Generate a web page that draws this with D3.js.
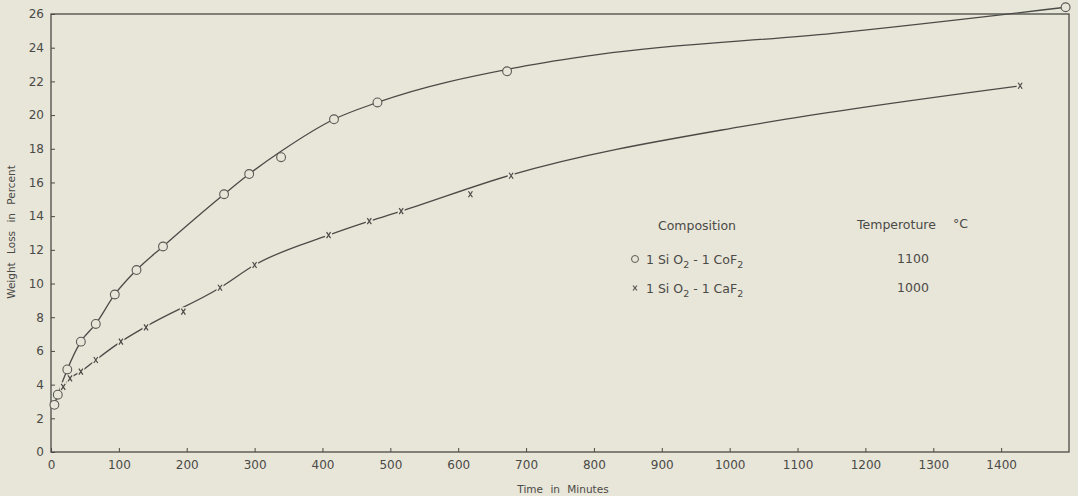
<!DOCTYPE html>
<html>
<head>
<meta charset="utf-8">
<script src="https://cdn.jsdelivr.net/npm/d3@7"></script>
<style>
  html, body { margin: 0; padding: 0; background: #e8e5d9; }
  svg { display: block; }
  .tick text { font-family: "DejaVu Sans", sans-serif; font-size: 12px; fill: #4a4a46; }
  .tick line { stroke: #4a4a46; stroke-width: 1; }
  .lbl { font-family: "DejaVu Sans", sans-serif; fill: #4a4a46; }
</style>
</head>
<body>
<svg id="chart"></svg>
<script>
// Weight loss vs time, two slag compositions (scanned lab chart)

const W = 1078, H = 496;
const M = { top: 14, right: 8, bottom: 44, left: 51 };

// measured points, 1 SiO2 - 1 CoF2 at 1100 C (circles)
const circleTime = [5, 10, 24, 44, 66, 94, 126, 165, 255, 292, 339, 417, 481, 672, 1495];
const circleLoss = [2.8, 3.4, 4.9, 6.55, 7.6, 9.35, 10.8, 12.2, 15.3, 16.5, 17.5, 19.75, 20.75, 22.6, 26.4];

// measured points, 1 SiO2 - 1 CaF2 at 1000 C (crosses)
const crossTime = [18, 28, 44, 66, 103, 140, 195, 249, 300, 409, 469, 516, 618, 678, 1428];
const crossLoss = [3.87, 4.37, 4.77, 5.46, 6.55, 7.4, 8.33, 9.75, 11.1, 12.87, 13.7, 14.3, 15.3, 16.4, 21.74];

// hand-drawn smooth curves
const curveCircleTime = [5, 10, 24, 44, 66, 94, 126, 165, 255, 292, 339, 417, 481, 690, 808, 1152, 1495];
const curveCircleLoss = [2.8, 3.4, 4.9, 6.55, 7.6, 9.35, 10.8, 12.2, 15.3, 16.5, 17.85, 19.75, 20.75, 22.85, 23.6, 24.85, 26.4];
const curveCrossTime = [10, 18, 28, 44, 66, 103, 140, 249, 300, 409, 469, 516, 678, 1015, 1083, 1428];
const curveCrossLoss = [3.4, 3.87, 4.37, 4.77, 5.46, 6.55, 7.45, 9.75, 11.1, 12.87, 13.7, 14.3, 16.45, 19.3, 19.76, 21.74];

const xTicks = d3.range(0, 1401, 100);
const yTicks = d3.range(0, 27, 2);

const legendRows = [
  { marker: 'circle', parts: ['1 Si O', '2', ' - 1 CoF', '2'], temp: '1100' },
  { marker: 'cross', parts: ['1 Si O', '2', ' - 1 CaF', '2'], temp: '1000' }
];

const ink = '#4a4a46';

const svg = d3.select('#chart').attr('width', W).attr('height', H);

const x = d3.scaleLinear().domain([0, 1500]).range([M.left, W - M.right - 1]);
const y = d3.scaleLinear().domain([0, 26]).range([H - M.bottom, M.top]);

// frame
svg.append('rect')
  .attr('x', x(0)).attr('y', y(26))
  .attr('width', x(1500) - x(0)).attr('height', y(0) - y(26))
  .attr('fill', 'none').attr('stroke', ink).attr('stroke-width', 1.3);

// axes with inward ticks
const xAxis = svg.append('g')
  .attr('transform', `translate(0,${y(0)})`)
  .call(d3.axisBottom(x).tickValues(xTicks).tickFormat(d3.format('d'))
    .tickSizeInner(-4).tickSizeOuter(0).tickPadding(8));
xAxis.select('.domain').remove();

const yAxis = svg.append('g')
  .attr('transform', `translate(${x(0)},0)`)
  .call(d3.axisLeft(y).tickValues(yTicks).tickFormat(d3.format('d'))
    .tickSizeInner(-4).tickSizeOuter(0).tickPadding(7));
yAxis.select('.domain').remove();

// axis titles
svg.append('text').attr('class', 'lbl')
  .attr('x', 563).attr('y', 493)
  .attr('text-anchor', 'middle')
  .attr('font-size', 10.5)
  .attr('word-spacing', 4)
  .text('Time in Minutes');

svg.append('text').attr('class', 'lbl')
  .attr('transform', `translate(15,232) rotate(-90)`)
  .attr('text-anchor', 'middle')
  .attr('font-size', 10.5)
  .attr('word-spacing', 5)
  .text('Weight Loss in Percent');

// curves
const line = d3.line()
  .x(d => x(d[0]))
  .y(d => y(d[1]))
  .curve(d3.curveMonotoneX);

svg.append('path')
  .datum(d3.zip(curveCircleTime, curveCircleLoss))
  .attr('d', line)
  .attr('fill', 'none').attr('stroke', ink).attr('stroke-width', 1.3);

svg.append('path')
  .datum(d3.zip(curveCrossTime, curveCrossLoss))
  .attr('d', line)
  .attr('fill', 'none').attr('stroke', ink).attr('stroke-width', 1.3);

// markers
function drawCircle(g, cx, cy) {
  g.append('circle')
    .attr('cx', cx).attr('cy', cy).attr('r', 4.4)
    .attr('fill', '#e8e5d9').attr('stroke', '#5a5a56').attr('stroke-width', 1.1);
}

function drawCross(g, cx, cy) {
  g.append('rect')
    .attr('x', cx - 3.5).attr('y', cy - 4.5).attr('width', 7).attr('height', 9)
    .attr('fill', '#e8e5d9');
  g.append('path')
    .attr('d', `M${cx - 2},${cy - 3}L${cx + 2},${cy + 3}M${cx + 2},${cy - 3}L${cx - 2},${cy + 3}`)
    .attr('stroke', ink).attr('stroke-width', 1.2).attr('fill', 'none');
}

const markG = svg.append('g');
d3.zip(crossTime, crossLoss).forEach(d => drawCross(markG, x(d[0]), y(d[1])));
d3.zip(circleTime, circleLoss).forEach(d => drawCircle(markG, x(d[0]), y(d[1])));

// legend
const lg = svg.append('g');
lg.append('text').attr('class', 'lbl')
  .attr('x', 697).attr('y', 230).attr('text-anchor', 'middle')
  .attr('font-size', 12.5).text('Composition');
lg.append('text').attr('class', 'lbl')
  .attr('x', 857).attr('y', 229)
  .attr('font-size', 12.5).text('Temperoture');
lg.append('text').attr('class', 'lbl')
  .attr('x', 953).attr('y', 228)
  .attr('font-size', 12.5).text('°C');

legendRows.forEach((r, i) => {
  const ry = 259 + i * 29;
  if (r.marker === 'circle') {
    lg.append('circle').attr('cx', 635).attr('cy', ry).attr('r', 3.5)
      .attr('fill', 'none').attr('stroke', '#5a5a56').attr('stroke-width', 1);
  } else {
    lg.append('path')
      .attr('d', `M633,${ry - 2.5}L637,${ry + 2.5}M637,${ry - 2.5}L633,${ry + 2.5}`)
      .attr('stroke', ink).attr('stroke-width', 1.1);
  }
  const t = lg.append('text').attr('class', 'lbl')
    .attr('x', 646).attr('y', ry + 5)
    .attr('font-size', 12.5);
  r.parts.forEach((p, k) => {
    const sub = k % 2 === 1;
    t.append('tspan')
      .attr('dy', sub ? 4 : (k === 0 ? 0 : -4))
      .attr('font-size', sub ? 9.5 : 12.5)
      .text(p);
  });
  lg.append('text').attr('class', 'lbl')
    .attr('x', 913).attr('y', ry + 4).attr('text-anchor', 'middle')
    .attr('font-size', 12.5).text(r.temp);
});
</script>
</body>
</html>
